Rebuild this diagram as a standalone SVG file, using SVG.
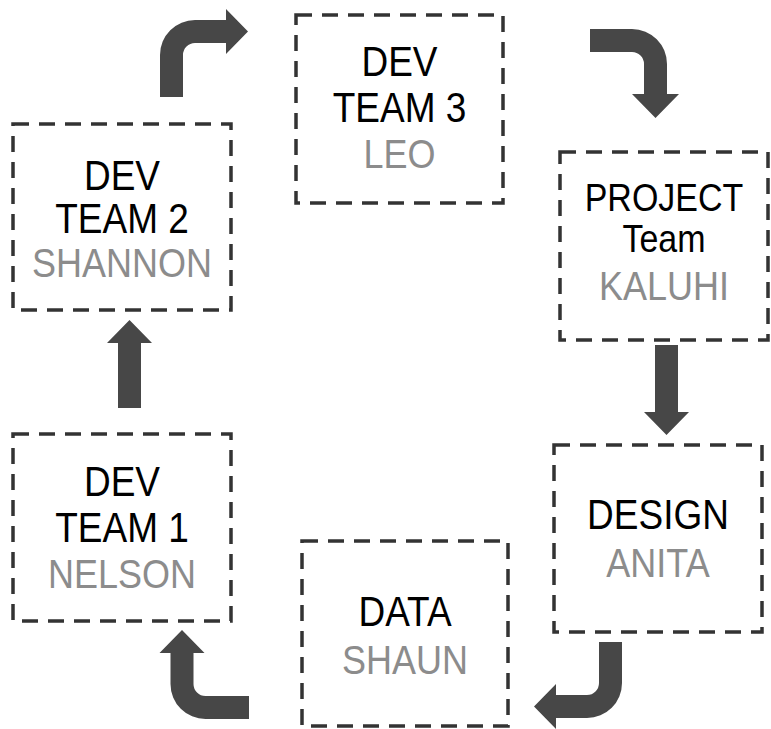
<svg xmlns="http://www.w3.org/2000/svg" width="771" height="729" viewBox="0 0 771 729">
<style>
.box{fill:none;stroke:#333;stroke-width:3.5;stroke-dasharray:16 10}
.t{font-family:"Liberation Sans",Arial,sans-serif;font-size:37px;fill:#000;text-anchor:middle}
.n{font-family:"Liberation Sans",Arial,sans-serif;font-size:36px;fill:#8c8c8c;text-anchor:middle}
.arr{fill:#474747;stroke:none}
</style>
<rect width="771" height="729" fill="#fff"/>
<g id="connectors">
<path class="arr" d="M160,97 L160,55 A35,35 0 0 1 195,20 L226,20 L226,9 L248,31.5 L226,54 L226,43 L195,43 A12,12 0 0 0 183,55 L183,97 Z"/>
<path class="arr" d="M590,29 L632,29 A35,35 0 0 1 667,64 L667,94 L679,94 L655.5,118 L632,94 L644,94 L644,64 A12,12 0 0 0 632,52 L590,52 Z"/>
<path class="arr" d="M655,345 L678,345 L678,412 L689,412 L666.5,435 L644,412 L655,412 Z"/>
<path class="arr" d="M599,642 L622,642 L622,683 A35,35 0 0 1 587,718 L556,718 L556,729 L534,706.5 L556,684 L556,695 L587,695 A12,12 0 0 0 599,683 Z"/>
<path class="arr" d="M249,719 L205.5,719 A35,35 0 0 1 170.5,684 L170.5,653 L159.5,653 L182,630 L204.5,653 L193.5,653 L193.5,684 A12,12 0 0 0 205.5,696 L249,696 Z"/>
<path class="arr" d="M118,408 L118,343 L107,343 L129.5,320 L152,343 L141,343 L141,408 Z"/>
</g>
<g id="dev2">
<rect class="box" x="13" y="124" width="218" height="186"/>
<text class="t" transform="translate(122,190) scale(1,1.15)">DEV</text>
<text class="t" transform="translate(122,233) scale(1,1.15)">TEAM 2</text>
<text class="n" transform="translate(122,277) scale(1,1.15)">SHANNON</text>
</g>
<g id="dev3">
<rect class="box" x="296" y="15" width="207" height="188"/>
<text class="t" transform="translate(399.5,76) scale(1,1.15)">DEV</text>
<text class="t" transform="translate(399.5,122) scale(1,1.15)">TEAM 3</text>
<text class="n" transform="translate(399.5,168) scale(1,1.15)">LEO</text>
</g>
<g id="project">
<rect class="box" x="560" y="152" width="208" height="188"/>
<text class="t" style="font-size:34px" transform="translate(664,211) scale(1,1.15)">PROJECT</text>
<text class="t" style="font-size:34px" transform="translate(664,252) scale(1,1.15)">Team</text>
<text class="n" transform="translate(664,300) scale(1,1.15)">KALUHI</text>
</g>
<g id="design">
<rect class="box" x="554" y="445" width="208" height="187"/>
<text class="t" transform="translate(658,529) scale(1,1.15)">DESIGN</text>
<text class="n" transform="translate(658,577) scale(1,1.15)">ANITA</text>
</g>
<g id="data">
<rect class="box" x="302" y="541" width="206" height="185"/>
<text class="t" transform="translate(405,626) scale(1,1.15)">DATA</text>
<text class="n" transform="translate(405,674) scale(1,1.15)">SHAUN</text>
</g>
<g id="dev1">
<rect class="box" x="13" y="434" width="218" height="187"/>
<text class="t" transform="translate(122,496) scale(1,1.15)">DEV</text>
<text class="t" transform="translate(122,542) scale(1,1.15)">TEAM 1</text>
<text class="n" transform="translate(122,588) scale(1,1.15)">NELSON</text>
</g>
</svg>
